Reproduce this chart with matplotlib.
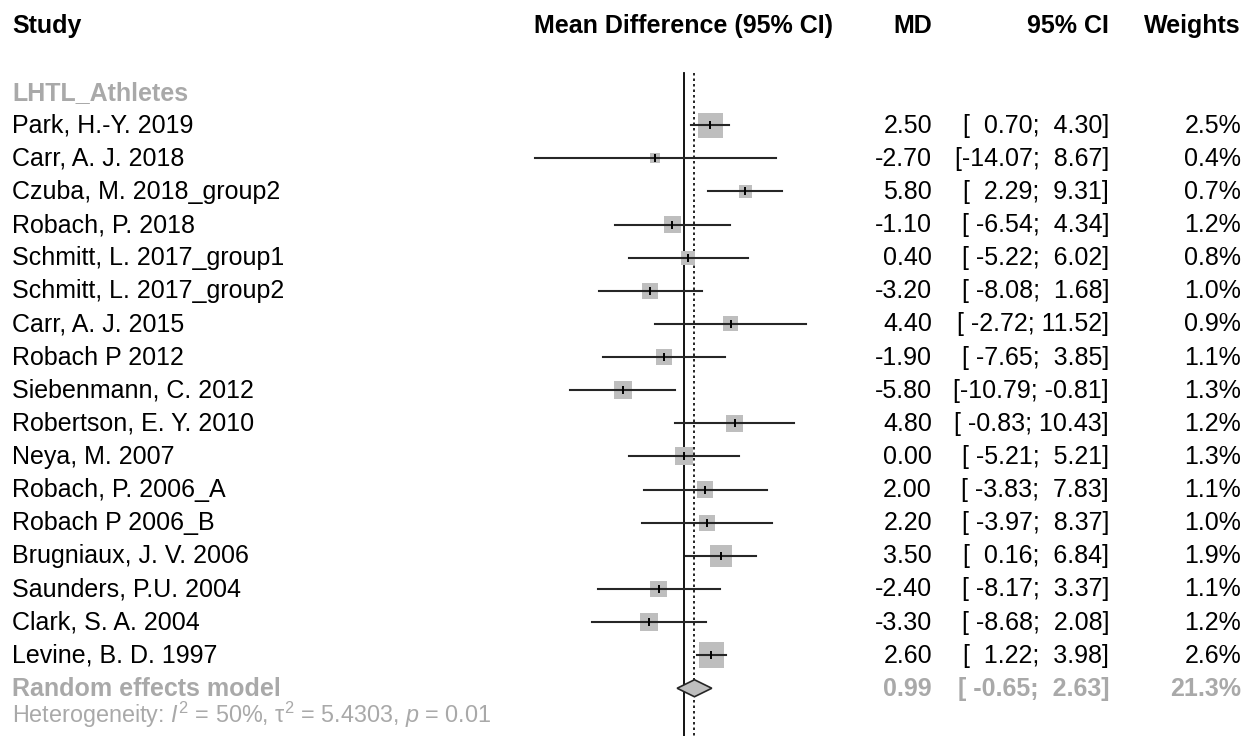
import numpy as np
import matplotlib
matplotlib.use("Agg")
import matplotlib.pyplot as plt
from matplotlib.transforms import blended_transform_factory
from matplotlib.patches import Polygon

# -------------------------------
# DATA
# -------------------------------
group_name = "LHTL_Athletes"
studies = ["Park, H.-Y. 2019", "Carr, A. J. 2018", "Czuba, M. 2018_group2",
           "Robach, P. 2018", "Schmitt, L. 2017_group1", "Schmitt, L. 2017_group2",
           "Carr, A. J. 2015", "Robach P 2012", "Siebenmann, C. 2012",
           "Robertson, E. Y. 2010", "Neya, M. 2007", "Robach, P. 2006_A",
           "Robach P 2006_B", "Brugniaux, J. V. 2006", "Saunders, P.U. 2004",
           "Clark, S. A. 2004", "Levine, B. D. 1997"]
md = [2.50, -2.70, 5.80, -1.10, 0.40, -3.20, 4.40, -1.90, -5.80, 4.80,
      0.00, 2.00, 2.20, 3.50, -2.40, -3.30, 2.60]
lower = [0.70, -14.07, 2.29, -6.54, -5.22, -8.08, -2.72, -7.65, -10.79, -0.83,
         -5.21, -3.83, -3.97, 0.16, -8.17, -8.68, 1.22]
upper = [4.30, 8.67, 9.31, 4.34, 6.02, 1.68, 11.52, 3.85, -0.81, 10.43,
         5.21, 7.83, 8.37, 6.84, 3.37, 2.08, 3.98]
weights = [2.5, 0.4, 0.7, 1.2, 0.8, 1.0, 0.9, 1.1, 1.3, 1.2,
           1.3, 1.1, 1.0, 1.9, 1.1, 1.2, 2.6]

re_md = 0.99
re_lower = -0.65
re_upper = 2.63
re_weight = 21.3
het_text = r"Heterogeneity: $\mathit{I}^2$ = 50%, τ$^2$ = 5.4303, $\mathit{p}$ = 0.01"

# -------------------------------
# ESTILO
# -------------------------------
plt.rcParams["font.family"] = ["Liberation Sans", "DejaVu Sans"]
plt.rcParams["mathtext.fontset"] = "custom"
plt.rcParams["mathtext.rm"] = "Liberation Sans"
plt.rcParams["mathtext.it"] = "Liberation Sans:italic"
FS = 18
FS_HET = 16.8
GREY_TXT = "#A9A9A9"
BOX = "#BEBEBE"

W, H, DPI = 1257, 736, 100
fig = plt.figure(figsize=(W / DPI, H / DPI), dpi=DPI)

# forest axes: full height, x in pixels 520..860
ROW0 = 92.0     # pixel y of group row
ROWH = 33.125   # pixel per row
ZERO_PX = 684.0
PX_UNIT = 10.57
left_px, right_px = 520, 860
ax = fig.add_axes([left_px / W, 0, (right_px - left_px) / W, 1])
ax.set_xlim((left_px - ZERO_PX) / PX_UNIT, (right_px - ZERO_PX) / PX_UNIT)
ax.set_ylim((H - ROW0) / ROWH, -ROW0 / ROWH)
ax.axis("off")

n = len(studies)
rows = np.arange(1, n + 1)
re_row = n + 1
line_top = (73 - ROW0) / ROWH

# lineas de referencia
ax.plot([0, 0], [line_top, 30], color="black", lw=1.3, zorder=1)
ax.plot([re_md, re_md], [line_top, 30], color="black", lw=1.2,
        ls=(0, (1.5, 1.8)), zorder=1)

# cajas (lado ~ sqrt(peso))
side_px = 15.8 * np.sqrt(np.array(weights))
side_pt = side_px * 72 / DPI
ax.scatter(md, rows, s=side_pt ** 2, marker="s", color=BOX, edgecolors="none", zorder=2)

# intervalos
for r, lo, hi in zip(rows, lower, upper):
    ax.plot([lo, hi], [r, r], color="#262626", lw=1.5, zorder=3)
ax.plot(md, rows, ls="none", marker="|", color="black", ms=6, mew=1.4, zorder=4)

# diamante
dh = 8.5 / ROWH
diamond = Polygon([[re_lower, re_row], [re_md, re_row - dh],
                   [re_upper, re_row], [re_md, re_row + dh]],
                  closed=True, facecolor=BOX, edgecolor="#262626", lw=1.2, zorder=3)
ax.add_patch(diamond)

# -------------------------------
# TEXTO (baseline = centro fila + media altura de mayusculas)
# -------------------------------
tr = blended_transform_factory(fig.transFigure, ax.transData)
BASE_OFF = 7.6 / ROWH
head_base = (33 - ROW0) / ROWH
het_base = (723 - ROW0) / ROWH


def put(xpx, row, s, ha="left", fs=FS, off=BASE_OFF, **kw):
    ax.text(xpx / W, row + off, s, transform=tr, ha=ha, va="baseline",
            fontsize=fs, clip_on=False, **kw)


put(12, head_base, "Study", weight="bold", off=0)
put(ZERO_PX, head_base, "Mean Difference (95% CI)", ha="center", weight="bold", off=0)
put(932, head_base, "MD", ha="right", weight="bold", off=0)
put(1109, head_base, "95% CI", ha="right", weight="bold", off=0)
put(1241, head_base, "Weights", ha="right", weight="bold", off=0)

put(12, 0, group_name, weight="bold", color=GREY_TXT)


def ci_str(lo, hi):
    return "[" + f"{lo:.2f}".rjust(6) + "; " + f"{hi:.2f}".rjust(5) + "]"


for r, name, m, lo, hi, w in zip(rows, studies, md, lower, upper, weights):
    put(12, r, name)
    put(932, r, f"{m:.2f}", ha="right")
    put(1109, r, ci_str(lo, hi), ha="right")
    put(1241, r, f"{w:.1f}%", ha="right")

put(12, re_row, "Random effects model", weight="bold", color=GREY_TXT)
put(932, re_row, f"{re_md:.2f}", ha="right", weight="bold", color=GREY_TXT)
put(1109, re_row, ci_str(re_lower, re_upper), ha="right", weight="bold", color=GREY_TXT)
put(1241, re_row, f"{re_weight:.1f}%", ha="right", weight="bold", color=GREY_TXT)
put(12, het_base, het_text, fs=FS_HET, off=0, color=GREY_TXT)

fig.savefig("out.png", dpi=DPI, facecolor="white")
